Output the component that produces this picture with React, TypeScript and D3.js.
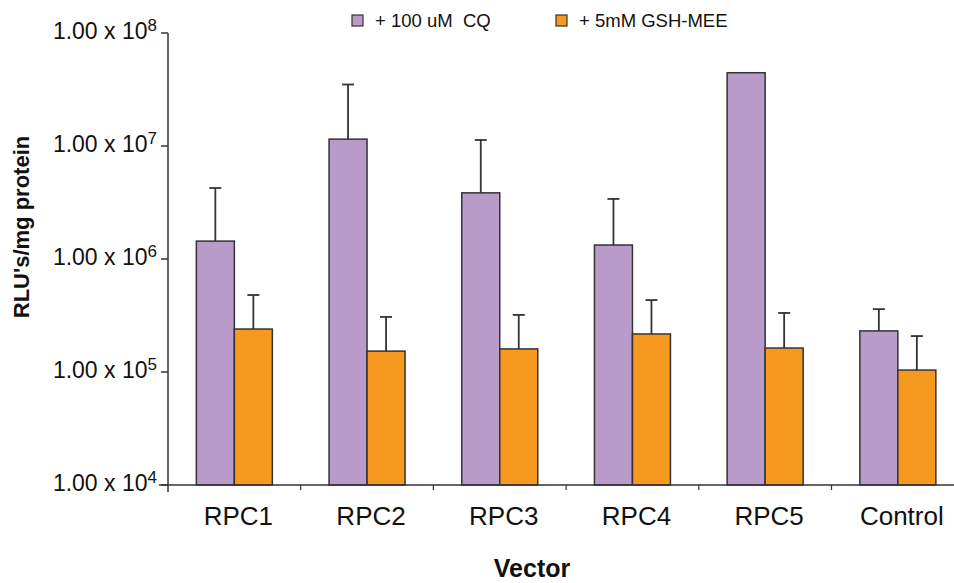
import { useRef, useEffect } from "react";
import * as d3 from "d3";

const categories = ["RPC1", "RPC2", "RPC3", "RPC4", "RPC5", "Control"];
const seriesNames = ["+ 100 uM  CQ", "+ 5mM GSH-MEE"];
const cqValues = [1.44e6, 1.15e7, 3.85e6, 1.33e6, 4.45e7, 2.31e5];
const cqErrorTops = [4.25e6, 3.5e7, 1.13e7, 3.4e6, null, 3.6e5];
const gshValues = [2.4e5, 1.53e5, 1.6e5, 2.17e5, 1.63e5, 1.04e5];
const gshErrorTops = [4.8e5, 3.07e5, 3.2e5, 4.33e5, 3.33e5, 2.08e5];
const yTickExponents = [4, 5, 6, 7, 8];
const colors = ["#b89bc9", "#f7991f"];

const App = () => {
  const svgRef = useRef<SVGSVGElement>(null);

  useEffect(() => {
    const svg = d3.select(svgRef.current);
    svg.selectAll("*").remove();

    const left = 168;
    const top = 33;
    const bottom = 485;
    const catWidth = 132.7;
    const font = "Liberation Sans, Arial, sans-serif";
    const ink = "#333";

    const x = d3
      .scaleBand()
      .domain(categories)
      .range([left, left + catWidth * categories.length])
      .padding(0);
    const inner = d3
      .scaleBand()
      .domain(seriesNames)
      .range([0, x.bandwidth()])
      .paddingInner(0)
      .paddingOuter(0.746);
    const y = d3.scaleLog().domain([1e4, 1e8]).range([bottom, top]);

    const series = [
      { name: seriesNames[0], values: cqValues, errs: cqErrorTops, color: colors[0] },
      { name: seriesNames[1], values: gshValues, errs: gshErrorTops, color: colors[1] },
    ];

    // bars
    series.forEach((s) => {
      const g = svg.append("g");
      g.selectAll("rect")
        .data(categories)
        .join("rect")
        .attr("x", (c) => x(c)! + inner(s.name)!)
        .attr("y", (c, i) => y(s.values[i]))
        .attr("width", inner.bandwidth())
        .attr("height", (c, i) => bottom - y(s.values[i]))
        .attr("fill", s.color)
        .attr("stroke", ink)
        .attr("stroke-width", 1.5);

      // error bars
      categories.forEach((c, i) => {
        const e = s.errs[i];
        if (e == null) return;
        const cx = x(c)! + inner(s.name)! + inner.bandwidth() / 2;
        g.append("line")
          .attr("x1", cx).attr("x2", cx)
          .attr("y1", y(s.values[i])).attr("y2", y(e))
          .attr("stroke", ink).attr("stroke-width", 1.8);
        g.append("line")
          .attr("x1", cx - 6).attr("x2", cx + 6)
          .attr("y1", y(e)).attr("y2", y(e))
          .attr("stroke", ink).attr("stroke-width", 1.8);
      });
    });

    // y axis
    const yAxis = svg.append("g");
    yAxis.append("line")
      .attr("x1", left).attr("x2", left)
      .attr("y1", top).attr("y2", bottom + 7)
      .attr("stroke", ink).attr("stroke-width", 1.5);
    yTickExponents.forEach((p) => {
      const ty = y(Math.pow(10, p));
      yAxis.append("line")
        .attr("x1", left - 7).attr("x2", left)
        .attr("y1", ty).attr("y2", ty)
        .attr("stroke", ink).attr("stroke-width", 1.5);
      const t = yAxis.append("text")
        .attr("x", 157)
        .attr("y", ty + 6)
        .attr("text-anchor", "end")
        .attr("font-family", font)
        .attr("font-size", 23)
        .attr("fill", "#111");
      t.append("tspan").text("1.00 x 10");
      t.append("tspan").attr("dy", -8).attr("font-size", 17).text(String(p));
    });

    // x axis
    const xAxis = svg.append("g");
    xAxis.append("line")
      .attr("x1", left - 9).attr("x2", 954)
      .attr("y1", bottom).attr("y2", bottom)
      .attr("stroke", ink).attr("stroke-width", 1.5);
    categories.forEach((c) => {
      const bx = x(c)! + x.bandwidth();
      xAxis.append("line")
        .attr("x1", bx).attr("x2", bx)
        .attr("y1", bottom).attr("y2", bottom + 5)
        .attr("stroke", ink).attr("stroke-width", 1.2);
      xAxis.append("text")
        .attr("x", x(c)! + x.bandwidth() / 2 + 4)
        .attr("y", 525)
        .attr("text-anchor", "middle")
        .attr("font-family", font)
        .attr("font-size", 26)
        .attr("fill", "#111")
        .text(c);
    });

    // axis titles
    svg.append("text")
      .attr("x", 532)
      .attr("y", 577)
      .attr("text-anchor", "middle")
      .attr("font-family", font)
      .attr("font-size", 25)
      .attr("font-weight", "bold")
      .attr("fill", "#111")
      .text("Vector");
    svg.append("text")
      .attr("transform", "translate(29,227) rotate(-90)")
      .attr("text-anchor", "middle")
      .attr("font-family", font)
      .attr("font-size", 22)
      .attr("font-weight", "bold")
      .attr("fill", "#111")
      .text("RLU's/mg protein");

    // legend
    const legendX = [352, 556];
    series.forEach((s, i) => {
      svg.append("rect")
        .attr("x", legendX[i]).attr("y", 15)
        .attr("width", 11).attr("height", 11)
        .attr("fill", s.color)
        .attr("stroke", ink).attr("stroke-width", 1.2);
      svg.append("text")
        .attr("x", legendX[i] + 23)
        .attr("y", 27)
        .attr("font-family", font)
        .attr("font-size", 18.5)
        .attr("fill", "#111")
        .style("white-space", "pre")
        .text(s.name);
    });
  }, []);

  return (
    <svg
      ref={svgRef}
      width={954}
      height={583}
      style={{ position: "absolute", left: 0, top: 0, background: "#fff" }}
    ></svg>
  );
};

export default App;
